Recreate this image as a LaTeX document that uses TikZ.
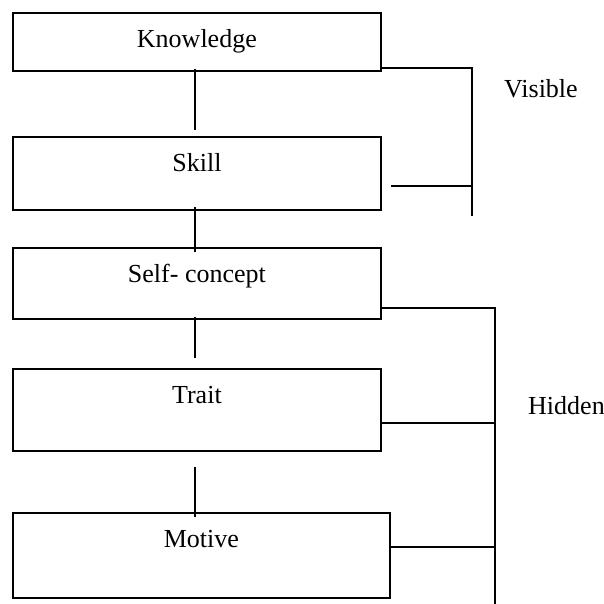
\documentclass[tikz,border=0pt]{standalone}
\usepackage{fontspec}
\setmainfont{Liberation Serif}
\begin{document}
\begin{tikzpicture}[x=1pt,y=-1pt,
    font=\fontsize{26}{31}\selectfont,
    blk/.style={draw,line width=1.8pt,inner sep=0pt,anchor=north west,
      minimum width=368pt,text height=35pt},
    lnk/.style={line width=1.5pt},
    tag/.style={anchor=base west,inner sep=0pt}]
    \useasboundingbox (0,0) rectangle (604,604);
    % the five levels
    \node[blk,text depth=23pt] (kn) at (12,12) {Knowledge};
    \node[blk,text depth=38pt] (sk) at (12,136) {Skill};
    \node[blk,text depth=36pt] (sc) at (12,247) {Self- concept};
    \node[blk,text depth=47pt] (tr) at (12,368) {Trait};
    \node[blk,text depth=50pt,minimum width=377pt] (mo) at (12,512) {Motive};
    % links between levels
    \draw[lnk] ([xshift=-2pt,yshift=3pt]kn.south) -- ([xshift=-2pt,yshift=6pt]sk.north);
    \draw[lnk] ([xshift=-2pt,yshift=4pt]sk.south) -- ([xshift=-2pt,yshift=-5pt]sc.north);
    \draw[lnk] ([xshift=-2pt,yshift=3pt]sc.south) -- ([xshift=-2pt,yshift=10pt]tr.north);
    \draw[lnk] ([xshift=-2pt,yshift=-15pt]tr.south) -- ([xshift=-6.5pt,yshift=-5pt]mo.north);
    % visible part
    \coordinate (vis) at (472,216);
    \draw[lnk] ([yshift=4pt]kn.south east) -| (vis);
    \coordinate (sk-r) at ([xshift=9pt,yshift=-50pt]sk.north east);
    \draw[lnk] (sk-r) -- (sk-r -| vis);
    \node[tag] (vis-lbl) at (504,98) {Visible};
    % hidden part
    \coordinate (hid) at (495,604);
    \draw[lnk] ([yshift=12pt]sc.south east) -| (hid);
    \coordinate (tr-r) at ([yshift=-55pt]tr.north east);
    \draw[lnk] (tr-r) -- (tr-r -| hid);
    \coordinate (mo-r) at ([yshift=-35pt]mo.north east);
    \draw[lnk] (mo-r) -- (mo-r -| hid);
    \node[tag] (hid-lbl) at (528,414) {Hidden};
\end{tikzpicture}
\end{document}
